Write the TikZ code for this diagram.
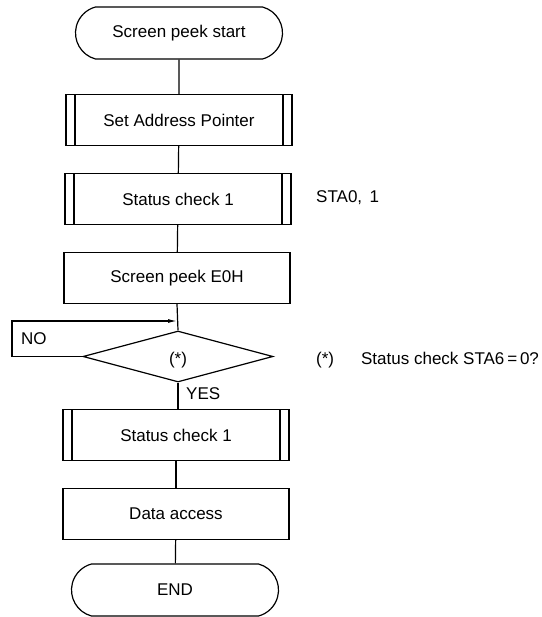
\documentclass[tikz,border=0pt]{standalone}
\usepackage{fontspec}
\setmainfont{Liberation Sans}
\usetikzlibrary{shapes.geometric,shapes.misc,arrows.meta}
\begin{document}
\begin{tikzpicture}[x=1pt,y=1pt,
  every node/.style={font=\fontsize{17}{20}\selectfont},
  line/.style={line width=1.2pt},
  term/.style={line, draw, rounded rectangle, rounded rectangle arc length=150, minimum width=207pt, minimum height=52pt, inner sep=0pt},
  proc/.style={line, draw, rectangle, minimum width=226pt, minimum height=51pt, inner sep=0pt},
  subproc/.style={proc, path picture={
     \draw[line] ([xshift=9pt]path picture bounding box.north west) -- ([xshift=9pt]path picture bounding box.south west);
     \draw[line] ([xshift=-9pt]path picture bounding box.north east) -- ([xshift=-9pt]path picture bounding box.south east);}},
  decision/.style={line, draw, diamond, minimum width=190pt, minimum height=51pt, inner sep=0pt},
  lbl/.style={inner sep=0pt, anchor=west}
]
\useasboundingbox (0,0) rectangle (541,-617);

\node[term] (start) at (179,-33) {Screen peek start};
\node[subproc] (sap) at (179,-120) {Set Address Pointer};
\node[subproc] (sc1) at (178,-199) {Status check 1};
\node[proc] (peek) at (177,-278) {Screen peek E0H};
\node[decision] (dec) at (178,-356.5) {};
\node at (178,-360) {(*)};
\node[subproc] (sc2) at (176,-435) {Status check 1};
\node[proc] (data) at (176,-514) {Data access};
\node[term] (end) at (175,-590) {END};

\node[lbl] (sta0) at (316,-198) {STA0,\, 1};
\node[lbl] (note) at (316,-360) {(*)\hspace{27pt}Status check STA6\,=\,0?};
\node[lbl] (no) at (21,-339) {NO};
\node[lbl] (yes) at (186,-394) {YES};

\coordinate (nl1) at (12,-356.5);
\coordinate (nl2) at (12,-321);
\coordinate (join) at (peek.south |- nl2);

\draw[line] (start) -- (sap);
\draw[line] (sap) -- (sc1);
\draw[line] (sc1) -- (peek);
\draw[line] (peek.south) -- (dec.north);
\draw[line, -{Latex[length=9pt,width=4pt]}] (dec.west) -- (nl1) -- (nl2) -- (join);
\draw[line] (dec.south) -- (sc2.north -| dec.south);
\draw[line] (sc2) -- (data);
\draw[line] (data) -- (end);
\end{tikzpicture}
\end{document}
